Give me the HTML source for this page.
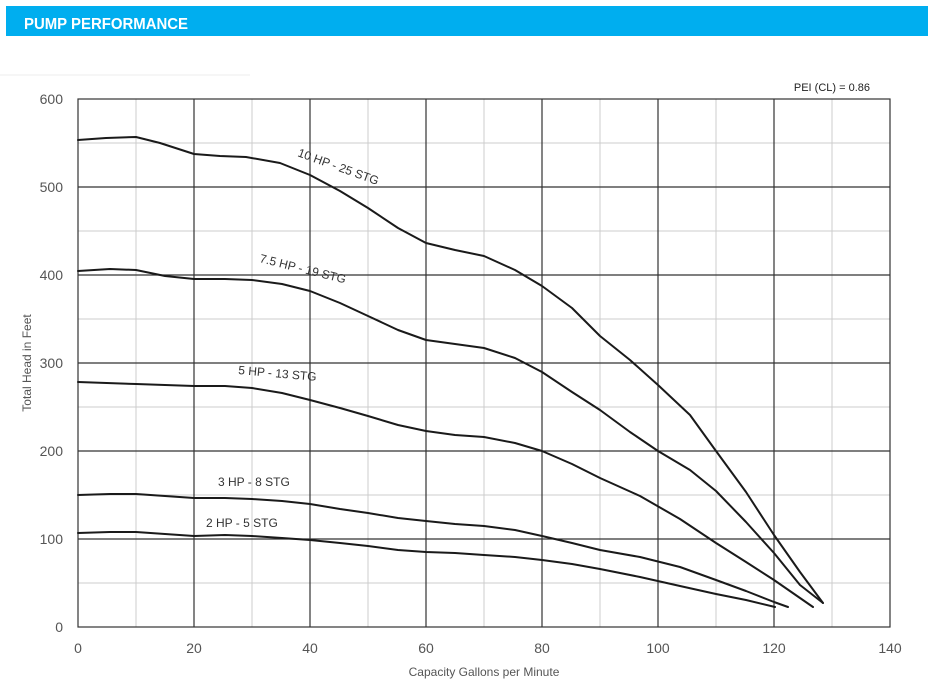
<!DOCTYPE html>
<html><head><meta charset="utf-8"><style>
html,body{margin:0;padding:0;background:#fff;width:942px;height:691px;overflow:hidden;font-family:"Liberation Sans",sans-serif}
</style></head><body>
<svg width="942" height="691" xmlns="http://www.w3.org/2000/svg" font-family="Liberation Sans, sans-serif">
<rect x="6" y="6" width="922" height="30" fill="#00AEEF"/>
<text x="24" y="29" fill="#fff" font-size="16" font-weight="bold" textLength="164" lengthAdjust="spacingAndGlyphs">PUMP PERFORMANCE</text>
<line x1="0" y1="75" x2="250" y2="75" stroke="#eee"/>
<g stroke="#ccc" stroke-width="1">
<line x1="136" y1="99" x2="136" y2="627"/><line x1="252" y1="99" x2="252" y2="627"/><line x1="368" y1="99" x2="368" y2="627"/><line x1="484" y1="99" x2="484" y2="627"/><line x1="600" y1="99" x2="600" y2="627"/><line x1="716" y1="99" x2="716" y2="627"/><line x1="832" y1="99" x2="832" y2="627"/>
<line x1="78" y1="143" x2="890" y2="143"/><line x1="78" y1="231" x2="890" y2="231"/><line x1="78" y1="319" x2="890" y2="319"/><line x1="78" y1="407" x2="890" y2="407"/><line x1="78" y1="495" x2="890" y2="495"/><line x1="78" y1="583" x2="890" y2="583"/>
</g>
<g stroke="#333" stroke-width="1.2">
<line x1="194" y1="99" x2="194" y2="627"/><line x1="310" y1="99" x2="310" y2="627"/><line x1="426" y1="99" x2="426" y2="627"/><line x1="542" y1="99" x2="542" y2="627"/><line x1="658" y1="99" x2="658" y2="627"/><line x1="774" y1="99" x2="774" y2="627"/>
<line x1="78" y1="187" x2="890" y2="187"/><line x1="78" y1="275" x2="890" y2="275"/><line x1="78" y1="363" x2="890" y2="363"/><line x1="78" y1="451" x2="890" y2="451"/><line x1="78" y1="539" x2="890" y2="539"/>
<rect x="78" y="99" width="812" height="528" fill="none"/>
</g>
<g fill="#555" font-size="14" text-anchor="end">
<text x="63" y="104">600</text><text x="63" y="192">500</text><text x="63" y="280">400</text><text x="63" y="368">300</text><text x="63" y="456">200</text><text x="63" y="544">100</text><text x="63" y="632">0</text>
</g>
<g fill="#555" font-size="14" text-anchor="middle">
<text x="78" y="653">0</text><text x="194" y="653">20</text><text x="310" y="653">40</text><text x="426" y="653">60</text><text x="542" y="653">80</text><text x="658" y="653">100</text><text x="774" y="653">120</text><text x="890" y="653">140</text>
</g>
<text x="484" y="676" fill="#555" font-size="12" text-anchor="middle">Capacity Gallons per Minute</text>
<text transform="translate(31,363) rotate(-90)" fill="#555" font-size="12" text-anchor="middle">Total Head in Feet</text>
<text x="870" y="91" fill="#222" font-size="11" text-anchor="end">PEI (CL) = 0.86</text>
<g fill="none" stroke="#1a1a1a" stroke-width="2" stroke-linejoin="round" stroke-linecap="round">
<polyline points="78,140 106,138 136,137 160,143 194,154 220,156 246,157 280,163 310,175 340,191 368,208 398,228 426,243 455,250 484,256 515,270 542,286 572,308 600,336 630,360 658,385 690,415 716,451 746,492 774,535 800,572 823,603"/>
<polyline points="78,271 110,269 136,270 165,276 194,279 225,279 252,280 282,284 310,291 340,303 368,316 398,330 426,340 455,344 484,348 515,358 542,372 572,392 600,410 630,432 658,451 690,470 716,491 746,522 774,553 800,585 823,603"/>
<polyline points="78,382 136,384 194,386 225,386 252,388 282,393 310,400 340,408 368,416 398,425 426,431 455,435 484,437 515,443 542,451 572,464 600,478 640,496 680,519 716,543 746,562 774,580 813,607"/>
<polyline points="78,495 110,494 136,494 165,496 194,498 225,498 252,499 282,501 310,504 340,509 368,513 398,518 426,521 455,524 484,526 515,530 542,536 572,543 600,550 640,557 680,567 716,580 746,591 774,602 788,607"/>
<polyline points="78,533 110,532 136,532 165,534 194,536 225,535 252,536 282,538 310,540 340,543 368,546 398,550 426,552 455,553 484,555 515,557 542,560 572,564 600,569 640,577 680,586 716,594 746,600 775,607"/>
</g>
<g fill="#333" font-size="12">
<text transform="translate(297,156) rotate(20)">10 HP - 25 STG</text>
<text transform="translate(259,262) rotate(14)">7.5 HP - 19 STG</text>
<text transform="translate(238,374) rotate(5)">5 HP - 13 STG</text>
<text x="218" y="486">3 HP - 8 STG</text>
<text x="206" y="527">2 HP - 5 STG</text>
</g>
</svg>
</body></html>
